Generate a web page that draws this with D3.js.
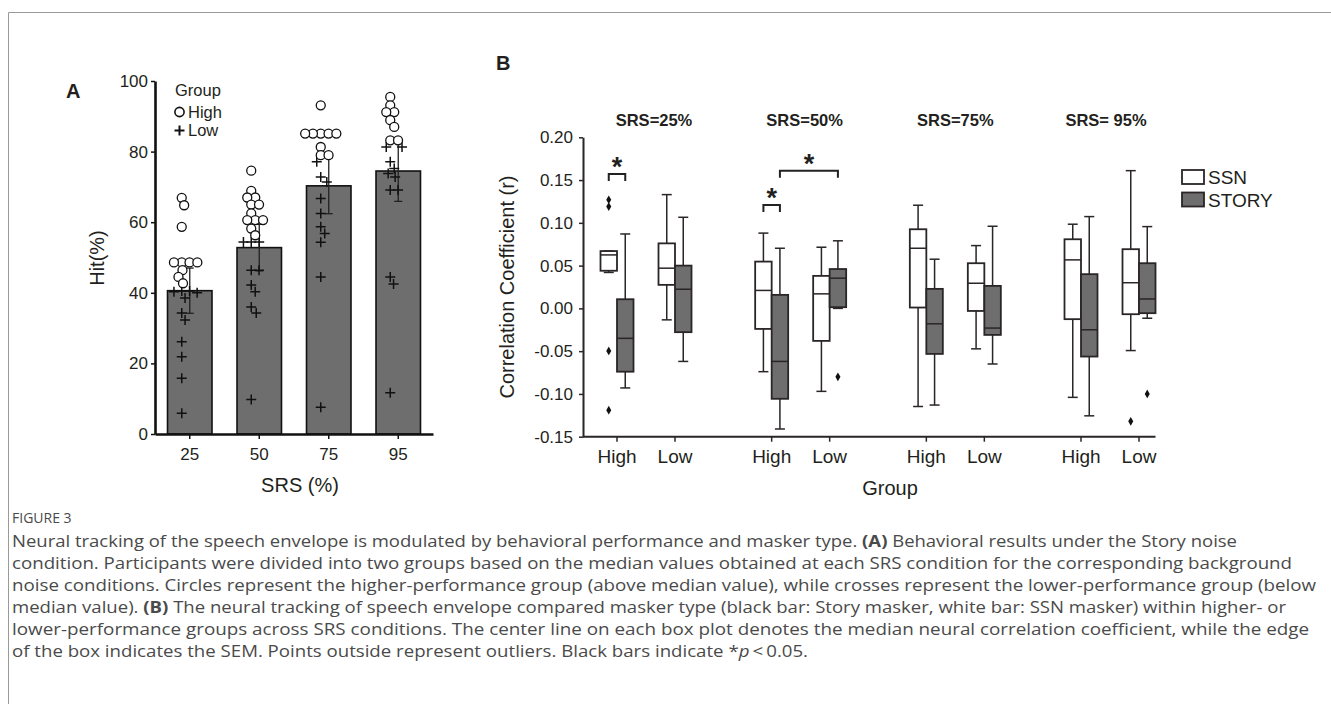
<!DOCTYPE html>
<html>
<head>
<meta charset="utf-8">
<script src="https://cdn.jsdelivr.net/npm/d3@7"></script>
<style>
  body { margin: 0; background: #fff; }
  svg text { font-family: "Liberation Sans", Arial, sans-serif; fill: #231f20; }
  svg .cap text { font-family: "Open Sans", "Noto Sans", sans-serif; fill: #4a4a4a; }
</style>
</head>
<body>
<svg id="fig"></svg>
<script>
var width = 1331,
    height = 704;

// ---- panel A data (Hit % under Story noise) ----
var srsA = ["25", "50", "75", "95"];
var hitMean = [40.6, 52.8, 70.3, 74.5];
var hitSD = [6.4, 6.6, 7.9, 8.6];
var hitHigh = [
  [66.9, 64.8, 58.7, 48.6, 48.6, 48.6, 48.6, 46.4, 44.5, 42.7],
  [74.6, 68.9, 67.0, 67.0, 65.0, 65.0, 62.5, 60.6, 60.6, 60.6, 58.2, 56.3],
  [93.1, 85.1, 85.1, 85.1, 85.1, 85.1, 81.3, 79.0, 79.0],
  [95.5, 93.1, 91.2, 91.2, 88.9, 87.0, 83.2, 83.2]
];
var hitLow = [
  [40.5, 40.5, 40.3, 40.0, 38.5, 34.3, 32.3, 26.1, 21.9, 15.8, 5.9],
  [54.4, 54.4, 54.4, 46.4, 46.4, 42.2, 40.3, 36.0, 34.3, 9.8],
  [77.1, 72.8, 71.4, 66.7, 62.5, 58.7, 56.8, 54.3, 44.5, 7.6],
  [81.3, 81.3, 77.1, 75.2, 73.8, 72.8, 69.1, 69.1, 44.5, 42.5, 11.7]
];
var hitTicks = [0, 20, 40, 60, 80, 100];

// ---- panel B data (correlation coefficient r) ----
// each row: [lower whisker, box bottom, median, box top, upper whisker]
var srsB = ["25", "50", "75", "95"];
var srsTitles = ["SRS=25%", "SRS=50%", "SRS=75%", "SRS= 95%"];
var groups = ["High", "Low"];
var maskers = ["SSN", "STORY"];
var ssnHigh = [
  [0.042, 0.044, 0.0625, 0.067, 0.067],
  [-0.074, -0.024, 0.021, 0.0547, 0.088],
  [-0.1147, 0.001, 0.0703, 0.0925, 0.1206],
  [-0.104, -0.0126, 0.0567, 0.0808, 0.0984]
];
var storyHigh = [
  [-0.093, -0.074, -0.035, 0.0107, 0.087],
  [-0.141, -0.1057, -0.062, 0.0158, 0.0703],
  [-0.113, -0.0532, -0.018, 0.0228, 0.0575],
  [-0.1256, -0.0563, -0.025, 0.040, 0.1073]
];
var ssnLow = [
  [-0.0134, 0.0275, 0.047, 0.076, 0.133],
  [-0.097, -0.038, 0.017, 0.038, 0.0715],
  [-0.0473, -0.003, 0.0294, 0.0528, 0.0734],
  [-0.0493, -0.0068, 0.030, 0.0692, 0.161]
];
var storyLow = [
  [-0.062, -0.0278, 0.0224, 0.050, 0.1065],
  [0.000, 0.0014, 0.0353, 0.046, 0.079],
  [-0.065, -0.031, -0.023, 0.0263, 0.096],
  [-0.0115, -0.0056, 0.011, 0.0528, 0.0956]
];
var outliers = [
  ["25", "High", "SSN", 0.127], ["25", "High", "SSN", 0.119],
  ["25", "High", "SSN", -0.0497], ["25", "High", "SSN", -0.119],
  ["50", "Low", "STORY", -0.080],
  ["95", "Low", "SSN", -0.132], ["95", "Low", "STORY", -0.100]
];
// significance brackets: srs, [group, masker] from, [group, masker] to, height (r)
var sigBars = [
  ["25", ["High", "SSN"], ["High", "STORY"], 0.157],
  ["50", ["High", "SSN"], ["High", "STORY"], 0.121],
  ["50", ["High", "STORY"], ["Low", "STORY"], 0.161]
];
var corrTicks = [-0.15, -0.10, -0.05, 0.00, 0.05, 0.10, 0.15, 0.20];

var captionLines = [
  [["Neural tracking of the speech envelope is modulated by behavioral performance and masker type. ", ""], ["(A)", "b"], [" Behavioral results under the Story noise", ""]],
  [["condition. Participants were divided into two groups based on the median values obtained at each SRS condition for the corresponding background", ""]],
  [["noise conditions. Circles represent the higher-performance group (above median value), while crosses represent the lower-performance group (below", ""]],
  [["median value). ", ""], ["(B)", "b"], [" The neural tracking of speech envelope compared masker type (black bar: Story masker, white bar: SSN masker) within higher- or", ""]],
  [["lower-performance groups across SRS conditions. The center line on each box plot denotes the median neural correlation coefficient, while the edge", ""]],
  [["of the box indicates the SEM. Points outside represent outliers. Black bars indicate *", ""], ["p", "i"], ["\u2009<\u20090.05.", ""]]
];
var captionEnds = [1237, 1292, 1316, 1286, 1309, 808];

var ink = "#231f20";
var barGray = "#6e6e6e";

var svg = d3.select("#fig")
    .attr("width", width)
    .attr("height", height);

// figure frame (top and left rules)
svg.append("path")
    .attr("d", "M8.5,704V12.5H1331")
    .attr("fill", "none")
    .attr("stroke", "#9a9a9a")
    .attr("stroke-width", 1);

// =================== PANEL A ===================
var gA = svg.append("g");

var xA = d3.scaleBand()
    .domain(srsA)
    .range([155, 433])
    .paddingInner(0.36)
    .paddingOuter(0.18);

var yA = d3.scaleLinear()
    .domain([0, 100])
    .range([434, 81]);

gA.append("text")
    .attr("x", 66).attr("y", 98)
    .attr("font-size", 20).attr("font-weight", "bold")
    .text("A");

// bars
gA.selectAll(".bar")
  .data(srsA)
  .enter()
  .append("rect")
    .attr("class", "bar")
    .attr("x", function(d) { return xA(d); })
    .attr("width", xA.bandwidth())
    .attr("y", function(d, i) { return yA(hitMean[i]); })
    .attr("height", function(d, i) { return yA(0) - yA(hitMean[i]); })
    .attr("fill", barGray)
    .attr("stroke", "#111")
    .attr("stroke-width", 1.6);

// error bars (SD)
var eb = gA.selectAll(".err")
  .data(srsA)
  .enter()
  .append("g")
    .attr("class", "err")
    .attr("stroke", "#222")
    .attr("stroke-width", 1.3);
eb.append("line")
    .attr("x1", function(d) { return xA(d) + xA.bandwidth() / 2; })
    .attr("x2", function(d) { return xA(d) + xA.bandwidth() / 2; })
    .attr("y1", function(d, i) { return yA(hitMean[i] - hitSD[i]); })
    .attr("y2", function(d, i) { return yA(hitMean[i] + hitSD[i]); });
eb.append("line")
    .attr("x1", function(d) { return xA(d) + xA.bandwidth() / 2 - 4; })
    .attr("x2", function(d) { return xA(d) + xA.bandwidth() / 2 + 4; })
    .attr("y1", function(d, i) { return yA(hitMean[i] - hitSD[i]); })
    .attr("y2", function(d, i) { return yA(hitMean[i] - hitSD[i]); });
eb.append("line")
    .attr("x1", function(d) { return xA(d) + xA.bandwidth() / 2 - 4; })
    .attr("x2", function(d) { return xA(d) + xA.bandwidth() / 2 + 4; })
    .attr("y1", function(d, i) { return yA(hitMean[i] + hitSD[i]); })
    .attr("y2", function(d, i) { return yA(hitMean[i] + hitSD[i]); });

// simple beeswarm so overlapping subjects spread sideways
function swarm(points, r) {
  var placed = [];
  points.sort(function(a, b) { return a.py - b.py; });
  points.forEach(function(p) {
    var cands = [0];
    placed.forEach(function(q) {
      var dy = p.py - q.py;
      if (Math.abs(dy) < 2 * r) {
        var dx = Math.sqrt(4 * r * r - dy * dy);
        cands.push(q.dx + dx, q.dx - dx);
      }
    });
    cands.sort(function(a, b) { return Math.abs(a) - Math.abs(b); });
    for (var k = 0; k < cands.length; k++) {
      var ok = placed.every(function(q) {
        var dx = cands[k] - q.dx, dy = p.py - q.py;
        return dx * dx + dy * dy >= 4 * r * r - 0.01;
      });
      if (ok) { p.dx = cands[k]; break; }
    }
    placed.push(p);
  });
  return placed;
}

var crossPath = "M-5,0H5M0,-5V5";

srsA.forEach(function(s, i) {
  var pts = hitHigh[i].map(function(v) { return {v: v, g: "High", py: yA(v)}; })
    .concat(hitLow[i].map(function(v) { return {v: v, g: "Low", py: yA(v)}; }));
  swarm(pts, 3.9);
  var cx = xA(s) + xA.bandwidth() * 0.32;
  pts.filter(function(p) { return p.g === "Low"; }).forEach(function(p) {
    gA.append("path")
        .attr("d", crossPath)
        .attr("transform", "translate(" + (cx + p.dx) + "," + p.py + ")")
        .attr("stroke", "#111").attr("stroke-width", 1.5);
  });
  pts.filter(function(p) { return p.g === "High"; }).forEach(function(p) {
    gA.append("circle")
        .attr("cx", cx + p.dx).attr("cy", p.py).attr("r", 4.5)
        .attr("fill", "#fff").attr("stroke", "#111").attr("stroke-width", 1.3);
  });
});

// axes A
var axA = gA.append("g")
    .attr("transform", "translate(155,0)")
    .call(d3.axisLeft(yA).tickValues(hitTicks).tickSize(4).tickSizeOuter(0).tickPadding(3));
axA.select(".domain").attr("stroke", "#111").attr("stroke-width", 2.6);
axA.selectAll(".tick line").attr("stroke", "#111").attr("stroke-width", 1.5);
axA.selectAll(".tick text").attr("font-size", 17).attr("fill", ink)
    .attr("font-family", "'Liberation Sans', Arial, sans-serif");

var axAx = gA.append("g")
    .attr("transform", "translate(0,434)")
    .call(d3.axisBottom(xA).tickSize(5).tickSizeOuter(0).tickPadding(9));
axAx.select(".domain").attr("stroke", "#111").attr("stroke-width", 2.6);
axAx.selectAll(".tick line").attr("stroke", "#111").attr("stroke-width", 1.5);
axAx.selectAll(".tick text").attr("font-size", 17).attr("fill", ink)
    .attr("font-family", "'Liberation Sans', Arial, sans-serif");

gA.append("text")
    .attr("transform", "translate(104,258) rotate(-90)")
    .attr("text-anchor", "middle")
    .attr("font-size", 20)
    .text("Hit(%)");
gA.append("text")
    .attr("x", 300).attr("y", 492)
    .attr("text-anchor", "middle")
    .attr("font-size", 20)
    .text("SRS (%)");

// legend A
var legA = gA.append("g");
legA.append("text").attr("x", 175).attr("y", 96).attr("font-size", 16.5).text("Group");
legA.append("circle").attr("cx", 179.5).attr("cy", 112).attr("r", 4.6)
    .attr("fill", "#fff").attr("stroke", "#111").attr("stroke-width", 1.6);
legA.append("text").attr("x", 188).attr("y", 117.5).attr("font-size", 16.5).text("High");
legA.append("path").attr("d", crossPath)
    .attr("transform", "translate(179.5,130.5)")
    .attr("stroke", "#111").attr("stroke-width", 2);
legA.append("text").attr("x", 188).attr("y", 135.5).attr("font-size", 16.5).text("Low");

// =================== PANEL B ===================
var gB = svg.append("g");

var xSrs = d3.scalePoint().domain(srsB).range([646, 1110]);
var xGrp = d3.scalePoint().domain(groups).range([-29, 29]);
var xMask = d3.scaleBand().domain(maskers).range([-16.5, 16.5]);
var xTitle = d3.scalePoint().domain(srsB).range([654, 1106]);
var yB = d3.scaleLinear().domain([-0.15, 0.20]).range([436.7, 137.3]);

function boxX(s, g, m) { return xSrs(s) + xGrp(g) + xMask(m); }
function boxMid(s, g, m) { return boxX(s, g, m) + xMask.bandwidth() / 2; }

gB.append("text")
    .attr("x", 496).attr("y", 70)
    .attr("font-size", 20).attr("font-weight", "bold")
    .text("B");

gB.selectAll(".srsTitle")
  .data(srsB)
  .enter()
  .append("text")
    .attr("class", "srsTitle")
    .attr("x", function(d) { return xTitle(d); })
    .attr("y", 126)
    .attr("text-anchor", "middle")
    .attr("font-size", 16.5)
    .attr("font-weight", "bold")
    .text(function(d, i) { return srsTitles[i]; });

// assemble box records
var boxes = [];
srsB.forEach(function(s, i) {
  boxes.push({s: s, g: "High", m: "SSN", st: ssnHigh[i]});
  boxes.push({s: s, g: "High", m: "STORY", st: storyHigh[i]});
  boxes.push({s: s, g: "Low", m: "SSN", st: ssnLow[i]});
  boxes.push({s: s, g: "Low", m: "STORY", st: storyLow[i]});
});

var bx = gB.selectAll(".box")
  .data(boxes)
  .enter()
  .append("g")
    .attr("class", "box")
    .attr("stroke", "#2a2527")
    .attr("stroke-width", 1.5);

// whiskers
bx.append("line")
    .attr("x1", function(d) { return boxMid(d.s, d.g, d.m); })
    .attr("x2", function(d) { return boxMid(d.s, d.g, d.m); })
    .attr("y1", function(d) { return yB(d.st[4]); })
    .attr("y2", function(d) { return yB(d.st[0]); });
bx.append("line")
    .attr("x1", function(d) { return boxMid(d.s, d.g, d.m) - 5; })
    .attr("x2", function(d) { return boxMid(d.s, d.g, d.m) + 5; })
    .attr("y1", function(d) { return yB(d.st[4]); })
    .attr("y2", function(d) { return yB(d.st[4]); });
bx.append("line")
    .attr("x1", function(d) { return boxMid(d.s, d.g, d.m) - 5; })
    .attr("x2", function(d) { return boxMid(d.s, d.g, d.m) + 5; })
    .attr("y1", function(d) { return yB(d.st[0]); })
    .attr("y2", function(d) { return yB(d.st[0]); });
// boxes
bx.append("rect")
    .attr("x", function(d) { return boxX(d.s, d.g, d.m); })
    .attr("width", xMask.bandwidth())
    .attr("y", function(d) { return yB(d.st[3]); })
    .attr("height", function(d) { return yB(d.st[1]) - yB(d.st[3]); })
    .attr("fill", function(d) { return d.m === "SSN" ? "#fff" : barGray; })
    .attr("stroke-width", 1.8);
// medians
bx.append("line")
    .attr("x1", function(d) { return boxX(d.s, d.g, d.m); })
    .attr("x2", function(d) { return boxX(d.s, d.g, d.m) + xMask.bandwidth(); })
    .attr("y1", function(d) { return yB(d.st[2]); })
    .attr("y2", function(d) { return yB(d.st[2]); });

// outliers
gB.selectAll(".out")
  .data(outliers)
  .enter()
  .append("path")
    .attr("class", "out")
    .attr("d", d3.symbol().type(d3.symbolDiamond).size(22))
    .attr("transform", function(d) {
      return "translate(" + boxMid(d[0], d[1], d[2]) + "," + yB(d[3]) + ")";
    })
    .attr("fill", "#111");

// significance brackets
var sg = gB.selectAll(".sig")
  .data(sigBars)
  .enter()
  .append("g")
    .attr("class", "sig");
sg.append("path")
    .attr("d", function(d) {
      var x1 = boxMid(d[0], d[1][0], d[1][1]),
          x2 = boxMid(d[0], d[2][0], d[2][1]),
          y = yB(d[3]);
      return "M" + x1 + "," + (y + 7) + "V" + y + "H" + x2 + "V" + (y + 7);
    })
    .attr("fill", "none")
    .attr("stroke", "#222")
    .attr("stroke-width", 2);
sg.append("text")
    .attr("x", function(d) {
      return (boxMid(d[0], d[1][0], d[1][1]) + boxMid(d[0], d[2][0], d[2][1])) / 2;
    })
    .attr("y", function(d) { return yB(d[3]) + 2; })
    .attr("text-anchor", "middle")
    .attr("font-size", 27)
    .attr("font-weight", "bold")
    .text("*");

// axes B
var fmtB = function(d) { return d3.format(".2f")(d).replace("\u2212", "-"); };
var axB = gB.append("g")
    .attr("transform", "translate(583,0)")
    .call(d3.axisLeft(yB).tickValues(corrTicks).tickFormat(fmtB).tickSize(4).tickSizeOuter(0).tickPadding(6));
axB.select(".domain").attr("stroke", "#2a2527").attr("stroke-width", 2);
axB.selectAll(".tick line").attr("stroke", "#2a2527").attr("stroke-width", 1.5);
axB.selectAll(".tick text").attr("font-size", 17).attr("fill", ink)
    .attr("font-family", "'Liberation Sans', Arial, sans-serif");

// x axis B: one tick per group inside each SRS level
var tickData = [];
srsB.forEach(function(s) { groups.forEach(function(g) { tickData.push({s: s, g: g}); }); });
var gxB = gB.append("g");
gxB.append("line")
    .attr("x1", 583).attr("x2", boxX("95", "Low", "STORY") + xMask.bandwidth())
    .attr("y1", yB(-0.15)).attr("y2", yB(-0.15))
    .attr("stroke", "#2a2527").attr("stroke-width", 2);
gxB.selectAll(".xt")
  .data(tickData)
  .enter()
  .append("line")
    .attr("class", "xt")
    .attr("x1", function(d) { return xSrs(d.s) + xGrp(d.g); })
    .attr("x2", function(d) { return xSrs(d.s) + xGrp(d.g); })
    .attr("y1", yB(-0.15)).attr("y2", yB(-0.15) + 5)
    .attr("stroke", "#2a2527").attr("stroke-width", 1.5);
gxB.selectAll(".xl")
  .data(tickData)
  .enter()
  .append("text")
    .attr("class", "xl")
    .attr("x", function(d) { return xSrs(d.s) + xGrp(d.g); })
    .attr("y", yB(-0.15) + 26)
    .attr("text-anchor", "middle")
    .attr("font-size", 19)
    .text(function(d) { return d.g; });

gB.append("text")
    .attr("transform", "translate(514,287) rotate(-90)")
    .attr("text-anchor", "middle")
    .attr("font-size", 20)
    .text("Correlation Coefficient (r)");
gB.append("text")
    .attr("x", 890).attr("y", 495)
    .attr("text-anchor", "middle")
    .attr("font-size", 20)
    .text("Group");

// legend B
var legB = gB.selectAll(".legB")
  .data(maskers)
  .enter()
  .append("g")
    .attr("class", "legB")
    .attr("transform", function(d, i) { return "translate(1182," + (170 + i * 22.5) + ")"; });
legB.append("rect")
    .attr("width", 22).attr("height", 14)
    .attr("fill", function(d) { return d === "SSN" ? "#fff" : barGray; })
    .attr("stroke", "#2a2527").attr("stroke-width", 1.8);
legB.append("text")
    .attr("x", 26).attr("y", 14)
    .attr("font-size", 19)
    .text(function(d) { return d; });

// =================== CAPTION ===================
var cap = svg.append("g").attr("class", "cap");
cap.append("text")
    .attr("x", 12).attr("y", 523)
    .attr("font-size", 14)
    .attr("fill", "#555")
    .text("FIGURE 3");
captionLines.forEach(function(line, i) {
  var t = cap.append("text")
      .attr("x", 12).attr("y", 547 + i * 22)
      .attr("font-size", 16)
      .attr("textLength", captionEnds[i] - 12)
      .attr("lengthAdjust", "spacingAndGlyphs");
  line.forEach(function(seg) {
    t.append("tspan")
        .attr("font-weight", seg[1] === "b" ? "bold" : null)
        .attr("font-style", seg[1] === "i" ? "italic" : null)
        .text(seg[0]);
  });
});
</script>
</body>
</html>
